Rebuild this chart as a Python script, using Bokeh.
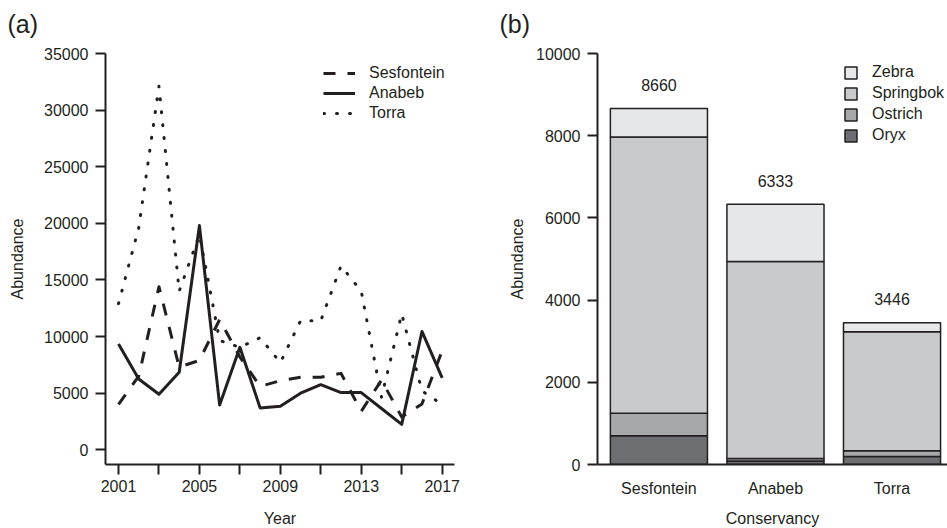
from bokeh.plotting import figure
from bokeh.models import Range1d, FixedTicker, Legend, LegendItem, ColumnDataSource
from bokeh.layouts import row
from bokeh.embed import file_html
from bokeh.resources import INLINE
from bokeh.core.properties import value

# ---------------- data: panel (a) ----------------
years = list(range(2001, 2018))
sesfontein = [4000, 6500, 14400, 7300, 7900, 11500, 8200, 5600, 6100, 6400,
              6400, 6750, 3400, 6150, 2900, 4050, 8750]
anabeb = [9350, 6250, 4900, 6850, 19800, 3950, 9050, 3700, 3850, 5000,
          5750, 5050, 5050, 3650, 2250, 10450, 6350]
torra = [12900, 19600, 32100, 14000, 19000, 9650, 9050, 9900, 7700, 11400,
         11400, 16250, 14000, 4650, 12000, 5200, 4000]
year_ticks = [2001, 2003, 2005, 2007, 2009, 2011, 2013, 2015, 2017]
year_labels = ["2001", "", "2005", "", "2009", "", "2013", "", "2017"]
abund_ticks_a = [0, 5000, 10000, 15000, 20000, 25000, 30000, 35000]

# ---------------- data: panel (b) ----------------
conservancies = ["Sesfontein", "Anabeb", "Torra"]
species = ["Oryx", "Ostrich", "Springbok", "Zebra"]
oryx = [700, 85, 195]
ostrich = [550, 60, 140]
springbok = [6720, 4795, 2895]
zebra = [690, 1393, 216]
totals = [8660, 6333, 3446]
species_colors = ["#6d6e71", "#a7a8aa", "#c9cacc", "#e6e7e8"]
abund_ticks_b = [0, 2000, 4000, 6000, 8000, 10000]

INK = "#231f20"
FONT = "Liberation Sans"
TOP = 62      # top border (the page is shifted up by 9px, so the frame starts at 53)


def style_axes(p):
    for ax in (p.xaxis[0], p.yaxis[0]):
        ax.axis_line_width = 2
        ax.axis_line_color = INK
        ax.major_tick_line_width = 2
        ax.major_tick_line_color = INK
        ax.major_tick_out = 10
        ax.major_tick_in = 0
        ax.minor_tick_line_color = None
        ax.major_label_text_font_size = "16px"
        ax.major_label_text_font = FONT
        ax.major_label_text_color = INK
        ax.axis_label_text_font_size = "16px"
        ax.axis_label_text_font = FONT
        ax.axis_label_text_font_style = "normal"
        ax.axis_label_text_color = INK
    p.xaxis[0].major_label_standoff = 5
    p.yaxis[0].major_label_standoff = 7
    p.grid.visible = False
    p.outline_line_color = None
    p.title.text_font_size = "25px"
    p.title.text_font = FONT
    p.title.text_font_style = "normal"
    p.title.text_color = INK
    p.title.offset = -98
    p.title.vertical_align = "bottom"
    p.title.standoff = 32


# ---------------- panel (a) ----------------
p1 = figure(frame_width=349, frame_height=411,
            min_border_left=105, min_border_right=20,
            min_border_top=TOP, min_border_bottom=64,
            x_range=Range1d(2000.357, 2017.609), y_range=Range1d(-1300, 35000),
            output_backend="svg", toolbar_location=None, title="(a)")
style_axes(p1)
p1.xaxis[0].ticker = FixedTicker(ticks=year_ticks)
p1.xaxis[0].major_label_overrides = {t: l for t, l in zip(year_ticks, year_labels)}
p1.yaxis[0].ticker = FixedTicker(ticks=abund_ticks_a)
p1.xaxis[0].axis_label = "Year"
p1.yaxis[0].axis_label = "Abundance"
p1.xaxis[0].axis_label_standoff = 15
p1.yaxis[0].axis_label_standoff = 15

src_a = ColumnDataSource(dict(year=years, ses=sesfontein, ana=anabeb, tor=torra))
r_ses = p1.line("year", "ses", source=src_a, line_color=INK, line_width=3,
                line_dash="12 12", line_cap="butt", line_join="round")
r_ana = p1.line("year", "ana", source=src_a, line_color=INK, line_width=3,
                line_join="round")
r_tor = p1.line("year", "tor", source=src_a, line_color=INK, line_width=3,
                line_dash="1 12", line_cap="round", line_join="round")

leg1 = Legend(items=[LegendItem(label="Sesfontein", renderers=[r_ses]),
                     LegendItem(label="Anabeb", renderers=[r_ana]),
                     LegendItem(label="Torra", renderers=[r_tor])],
              location=(218, 341), glyph_width=32, glyph_height=20,
              label_height=20, spacing=0, label_standoff=14, padding=0, margin=0,
              border_line_color=None, background_fill_alpha=0,
              label_text_font_size="16px", label_text_font=FONT,
              label_text_color=INK)
p1.add_layout(leg1)

# ---------------- panel (b) ----------------
xpos = list(range(len(conservancies)))
p2 = figure(frame_width=350, frame_height=411,
            min_border_left=123, min_border_right=0,
            min_border_top=TOP, min_border_bottom=64,
            x_range=Range1d(-0.527, 2.476), y_range=Range1d(0, 10000),
            output_backend="svg", toolbar_location=None, title="(b)")
style_axes(p2)
p2.xaxis[0].ticker = FixedTicker(ticks=xpos)
p2.xaxis[0].major_label_overrides = {i: c for i, c in zip(xpos, conservancies)}
p2.xaxis[0].major_tick_line_color = None
p2.yaxis[0].ticker = FixedTicker(ticks=abund_ticks_b)
p2.xaxis[0].axis_label = "Conservancy"
p2.yaxis[0].axis_label = "Abundance"
p2.xaxis[0].axis_label_standoff = 10
p2.yaxis[0].axis_label_standoff = 7

src_b = ColumnDataSource(dict(x=xpos, Oryx=oryx, Ostrich=ostrich,
                              Springbok=springbok, Zebra=zebra, total=totals,
                              label=[str(t) for t in totals]))
bars = p2.vbar_stack(species, x="x", width=0.833, source=src_b,
                     fill_color=species_colors, line_color=INK, line_width=1.5)
p2.text(x="x", y="total", text="label", source=src_b, text_align="center",
        text_baseline="middle", y_offset=-23.5, text_font_size="16px",
        text_font=value(FONT), text_color=INK)

leg2 = Legend(items=[LegendItem(label=s, renderers=[r])
                     for s, r in reversed(list(zip(species, bars)))],
              location=(246, 319), glyph_width=15, glyph_height=15,
              label_height=20, spacing=1, label_standoff=14, padding=0, margin=0,
              border_line_color=None, background_fill_alpha=0,
              label_text_font_size="16px", label_text_font=FONT,
              label_text_color=INK)
p2.add_layout(leg2)

layout = row(p1, p2)
layout.styles = {"position": "absolute", "left": "0px", "top": "-9px"}

open("out.html", "w").write(file_html(layout, INLINE))
